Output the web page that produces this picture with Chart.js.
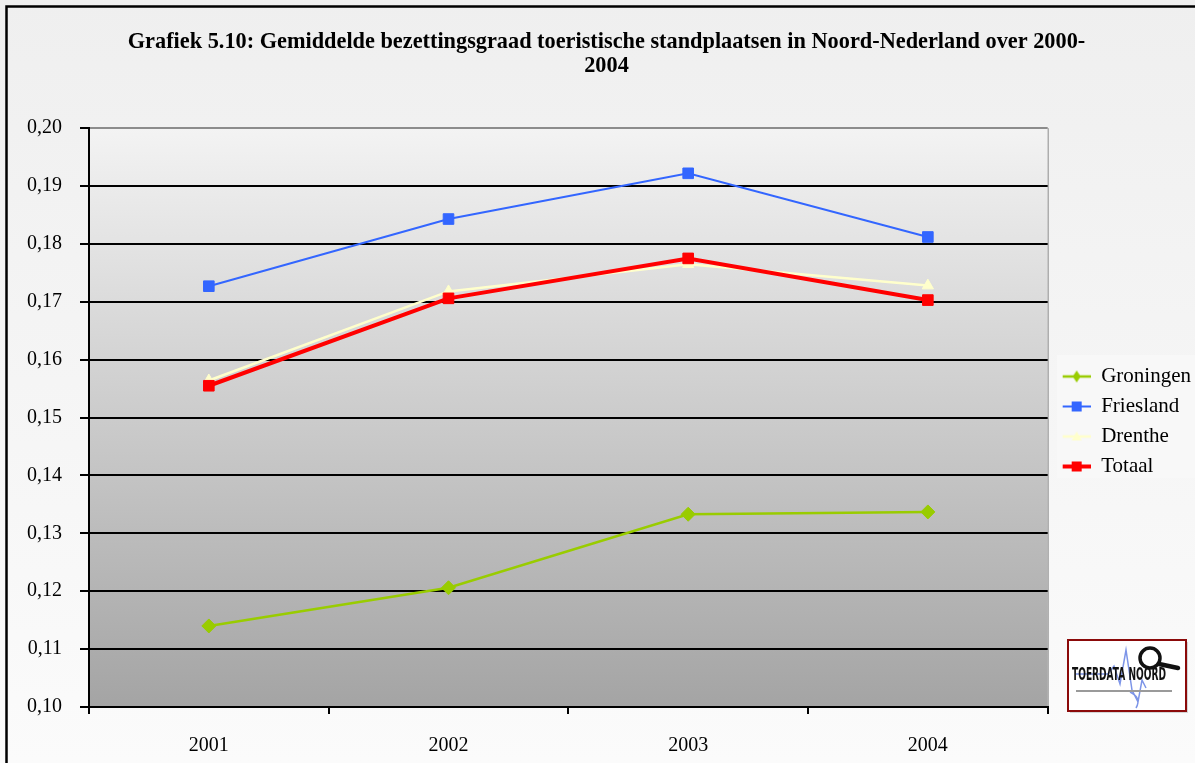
<!DOCTYPE html>
<html><head><meta charset="utf-8">
<script src="https://cdn.jsdelivr.net/npm/chart.js@4.4.0/dist/chart.umd.min.js"></script>
<style>html,body{margin:0;padding:0;background:#f4f4f4;overflow:hidden}#wrap{width:1195px;height:763px;position:relative}</style>
</head><body><div id="wrap"><canvas id="c" width="1195" height="763"></canvas></div>
<script>
const categories = ['2001', '2002', '2003', '2004'];
const groningen = [0.1140, 0.1206, 0.1333, 0.1337];
const friesland = [0.1727, 0.1843, 0.1922, 0.1812];
const drenthe   = [0.1564, 0.1718, 0.1765, 0.1728];
const totaal    = [0.1555, 0.1706, 0.1775, 0.1703];
const yTickLabels = ['0,10','0,11','0,12','0,13','0,14','0,15','0,16','0,17','0,18','0,19','0,20'];
const titleLines = ['Grafiek 5.10: Gemiddelde bezettingsgraad toeristische standplaatsen in Noord-Nederland over 2000-', '2004'];
const seriesNames = ['Groningen', 'Friesland', 'Drenthe', 'Totaal'];

const SERIF = '"Liberation Serif", "Times New Roman", serif';

function legendIcon(color, lw, style, r) {
  const c = document.createElement('canvas');
  c.width = 34; c.height = 18;
  const g = c.getContext('2d');
  const cy = 9, x0 = 6, x1 = 34, cx = 20;
  g.strokeStyle = color; g.lineWidth = lw;
  g.beginPath(); g.moveTo(x0, cy); g.lineTo(x1, cy); g.stroke();
  g.fillStyle = color;
  g.beginPath();
  if (style === 'diamond') {
    g.moveTo(cx, cy - r - 1); g.lineTo(cx + r - 1, cy); g.lineTo(cx, cy + r + 1); g.lineTo(cx - r + 1, cy); g.closePath();
  } else if (style === 'square') {
    g.rect(cx - r, cy - r, 2 * r, 2 * r);
  } else {
    g.moveTo(cx, cy - r); g.lineTo(cx + r, cy + r - 1); g.lineTo(cx - r, cy + r - 1); g.closePath();
  }
  g.fill();
  return c;
}

const icons = [
  legendIcon('#99cc00', 2.5, 'diamond', 5),
  legendIcon('#3366ff', 2, 'square', 5),
  legendIcon('#ffffcc', 2.5, 'triangle', 5),
  legendIcon('#ff0000', 4, 'square', 5)
];

const decor = {
  id: 'decor',
  beforeDraw(chart) {
    const ctx = chart.ctx, a = chart.chartArea;
    ctx.save();
    let g = ctx.createLinearGradient(0, 0, 0, 763);
    g.addColorStop(0, '#efefef'); g.addColorStop(1, '#fbfbfb');
    ctx.fillStyle = g; ctx.fillRect(0, 0, 1195, 763);
    ctx.strokeStyle = '#000'; ctx.lineWidth = 2.5;
    ctx.strokeRect(6.5, 6.5, 1300, 900);
    g = ctx.createLinearGradient(0, a.top, 0, a.bottom);
    g.addColorStop(0, '#f3f3f3'); g.addColorStop(1, '#a4a4a4');
    ctx.fillStyle = g; ctx.fillRect(a.left, a.top, a.right - a.left, a.bottom - a.top);
    ctx.strokeStyle = '#8c8c8c'; ctx.lineWidth = 1;
    ctx.beginPath(); ctx.moveTo(a.right + 0.5, a.top); ctx.lineTo(a.right + 0.5, a.bottom); ctx.stroke();
    ctx.fillStyle = '#f8f8f8';
    ctx.fillRect(1057, 355, 140, 123);
    ctx.restore();
  },
  afterDraw(chart) {
    const ctx = chart.ctx;
    const x = 1068, y = 640, w = 118, h = 71;
    ctx.save();
    ctx.fillStyle = 'rgba(0,0,0,0.15)'; ctx.fillRect(x + 2, y + 2, w, h);
    ctx.fillStyle = '#ffffff'; ctx.fillRect(x, y, w, h);
    ctx.strokeStyle = '#7d95e8'; ctx.lineWidth = 1.5;
    ctx.beginPath();
    ctx.moveTo(x + 8, y + 34); ctx.lineTo(x + 40, y + 34); ctx.lineTo(x + 46, y + 26);
    ctx.lineTo(x + 52, y + 44); ctx.lineTo(x + 58, y + 10); ctx.lineTo(x + 64, y + 50);
    ctx.lineTo(x + 70, y + 62); ctx.lineTo(x + 74, y + 40); ctx.lineTo(x + 78, y + 48);
    ctx.moveTo(x + 62, y + 52); ctx.quadraticCurveTo(x + 74, y + 58, x + 68, y + 68);
    ctx.stroke();
    ctx.strokeStyle = '#111'; ctx.lineWidth = 3.5;
    ctx.beginPath(); ctx.arc(x + 82, y + 18, 10, 0, Math.PI * 2);
    ctx.fillStyle = 'rgba(255,255,255,0.7)'; ctx.fill(); ctx.stroke();
    ctx.lineWidth = 4.5; ctx.lineCap = 'round';
    ctx.beginPath(); ctx.moveTo(x + 91, y + 24); ctx.lineTo(x + 110, y + 28); ctx.stroke();
    ctx.fillStyle = '#111';
    ctx.font = 'bold 14px "DejaVu Sans Condensed", "Liberation Sans", sans-serif';
    ctx.textBaseline = 'middle';
    ctx.save(); ctx.translate(x + 4, y + 36); ctx.scale(0.72, 1.2);
    ctx.fillText('TOERDATA NOORD', 0, 0); ctx.restore();
    ctx.fillStyle = '#9a9a9a'; ctx.fillRect(x + 8, y + 50, 96, 2);
    ctx.strokeStyle = '#8b0a0a'; ctx.lineWidth = 2;
    ctx.strokeRect(x, y, w, h);
    ctx.restore();
  }
};

new Chart(document.getElementById('c'), {
  type: 'line',
  data: {
    labels: categories,
    datasets: [
      { label: seriesNames[0], data: groningen, borderColor: '#99cc00', backgroundColor: '#99cc00', borderWidth: 2.5, pointStyle: 'rectRot', pointRadius: 7, pointBorderWidth: 1, order: 1 },
      { label: seriesNames[1], data: friesland, borderColor: '#3366ff', backgroundColor: '#3366ff', borderWidth: 2, pointStyle: 'rect', pointRadius: 7.5, pointBorderWidth: 1, order: 2 },
      { label: seriesNames[2], data: drenthe, borderColor: '#ffffcc', backgroundColor: '#ffffcc', borderWidth: 2.5, pointStyle: 'triangle', pointRadius: 6.5, pointBorderWidth: 1, order: 3 },
      { label: seriesNames[3], data: totaal, borderColor: '#ff0000', backgroundColor: '#ff0000', borderWidth: 4, pointStyle: 'rect', pointRadius: 7.5, pointBorderWidth: 1, order: 0 }
    ]
  },
  options: {
    responsive: false,
    animation: false,
    devicePixelRatio: 1,
    layout: { padding: { left: 12, right: -6, top: 0, bottom: 0 } },
    plugins: {
      tooltip: { enabled: false },
      title: {
        display: true, text: titleLines, color: '#000',
        font: { family: SERIF, size: 22.3, weight: 'bold', lineHeight: 1.08 },
        padding: { top: 30, bottom: 50 }
      },
      legend: {
        position: 'right',
        title: { display: true, text: ' ', font: { size: 10, lineHeight: 1 }, padding: { top: 70, bottom: 0 } },
        labels: {
          usePointStyle: true, pointStyleWidth: 34, padding: 9, color: '#000',
          font: { family: SERIF, size: 21 },
          generateLabels(chart) {
            return chart.data.datasets.map((d, i) => ({
              text: d.label, pointStyle: icons[i], fillStyle: d.borderColor, strokeStyle: d.borderColor,
              lineWidth: 0, hidden: false, datasetIndex: i, fontColor: '#000'
            }));
          }
        }
      }
    },
    scales: {
      x: {
        offset: true,
        grid: { offset: true, drawOnChartArea: false, drawTicks: true, tickLength: 7, color: '#000', lineWidth: 2 },
        border: { color: '#000', width: 2 },
        ticks: { color: '#000', font: { family: SERIF, size: 20 }, padding: 20, maxRotation: 0 },
        afterFit(s) { s.height = 56; }
      },
      y: {
        min: 0.10, max: 0.20,
        grid: {
          color: (c) => (c.tick && c.tick.value > 0.1995 ? '#8c8c8c' : '#000'),
          tickColor: '#000', lineWidth: 2, tickLength: 9
        },
        border: { color: '#000', width: 2 },
        ticks: {
          stepSize: 0.01, color: '#000', padding: 18,
          font: { family: SERIF, size: 20 },
          callback: (v, i) => yTickLabels[i]
        },
        afterFit(s) { s.width = 77; }
      }
    }
  },
  plugins: [decor]
});
</script>
</body></html>
